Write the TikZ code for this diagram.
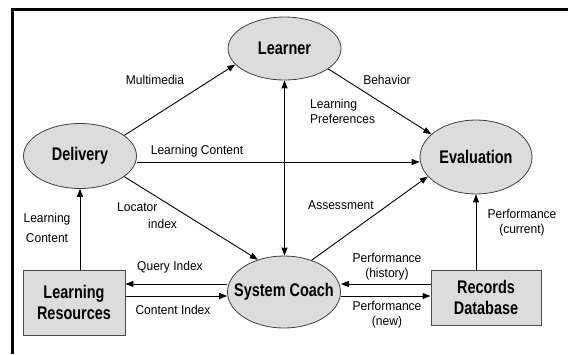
\documentclass[tikz,border=0pt]{standalone}
\usepackage{fontspec}
\setmainfont{Liberation Sans}
\newfontfamily\lblfont[FakeStretch=0.94]{Liberation Sans}
\newfontfamily\headfont[FakeStretch=0.79]{Liberation Sans}
\usetikzlibrary{arrows.meta,shapes.geometric}
\definecolor{fillgray}{HTML}{DCDCDC}

\begin{document}
\begin{tikzpicture}[x=1pt,y=-1pt,
  bubble/.style={ellipse,draw=black!75,line width=0.8pt,fill=fillgray,inner sep=0pt,
    font=\headfont\bfseries\fontsize{18.3}{20}\selectfont},
  store/.style={rectangle,draw=black!70,line width=0.9pt,fill=fillgray,align=center,inner sep=0pt,
    font=\headfont\bfseries\fontsize{18.3}{20.5}\selectfont},
  tip/.tip={Triangle[length=8pt,width=6pt]},
  flow/.style={-tip,line width=0.9pt},
  lbl/.style={font=\lblfont\fontsize{12.8}{15}\selectfont,align=center,inner sep=0pt}
]
\useasboundingbox (0,0) rectangle (568,354);

% frame along the top and left edges
\draw[line width=3pt] (568,9.5) -- (12,9.5) -- (12,354);

% processes
\node[bubble,minimum width=113pt,minimum height=63pt] (learner) at (284.5,48.5) {\makebox[0pt]{Learner}};
\node[bubble,minimum width=113pt,minimum height=65pt] (delivery) at (80,156) {\makebox[0pt]{Delivery}};
\node[bubble,minimum width=112pt,minimum height=74pt] (eval) at (476,157) {\makebox[0pt]{Evaluation}};
\node[bubble,minimum width=113pt,minimum height=72pt] (coach) at (284,292) {\makebox[0pt]{System Coach}};

% data stores
\node[store,minimum width=102pt,minimum height=65pt] (resources) at (74,302.5) {Learning\\Resources};
\node[store,minimum width=110pt,minimum height=55pt] (records) at (486,297.5) {Records\\Database};

% flows
\draw[flow] (delivery.25) -- (learner.198);
\draw[flow] (learner.-25) -- (eval.153);
\draw[flow] ([yshift=-6pt]delivery.east) -- ([yshift=-6pt]delivery.east -| eval.west);
\draw[tip-tip,line width=0.9pt] (learner.south) -- (learner.south |- coach.north);
\draw[flow] (delivery.-25) -- (coach.129);
\draw[flow] (coach.49) -- (eval.202);
\draw[flow] (resources.north -| delivery.south) -- (delivery.south);
\draw[flow] (records.north -| eval.south) -- (eval.south);
\draw[flow] ([yshift=18.5pt]resources.east -| coach.west) -- ([yshift=18.5pt]resources.east);
\draw[flow] ([yshift=6.5pt]resources.east) -- ([yshift=6.5pt]resources.east -| coach.west);
\draw[flow] ([yshift=13.5pt]records.west) -- ([yshift=13.5pt]records.west -| coach.east);
\draw[flow] ([yshift=1.5pt]records.west -| coach.east) -- ([yshift=1.5pt]records.west);

% flow labels
\node[lbl] (mm) at (155,80) {Multimedia};
\node[lbl] (beh) at (387,80) {Behavior};
\node[lbl,align=left,anchor=west] (pref) at (310,111.5) {Learning\\Preferences};
\node[lbl] (lc) at (197,151) {Learning Content};
\node[lbl,font=\lblfont\fontsize{12.8}{20}\selectfont] (lcr) at (47,228) {Learning\\Content};
\node[lbl,align=left,anchor=west,font=\lblfont\fontsize{12.8}{17}\selectfont] (loc) at (117,216) {Locator\\\hspace*{31pt}index};
\node[lbl] (assess) at (341,205) {Assessment};
\node[lbl] (qi) at (170,267) {Query Index};
\node[lbl] (ci) at (173,310) {Content Index};
\node[lbl] (ph) at (387,267) {Performance\\(history)};
\node[lbl] (pn) at (387,315) {Performance\\(new)};
\node[lbl] (pc) at (522,223) {Performance\\(current)};
\end{tikzpicture}
\end{document}
